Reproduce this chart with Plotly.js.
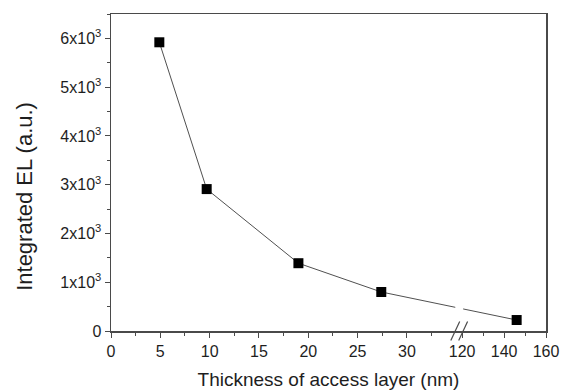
<!DOCTYPE html>
<html>
<head>
<meta charset="utf-8">
<script src="https://cdn.plot.ly/plotly-3.0.1.min.js"></script>
<style>html,body{margin:0;padding:0;background:#fff;}#chart{width:572px;height:390px;}</style>
</head>
<body>
<div id="chart"></div>
<script>
// Data
const thickness = [4.9, 9.7, 19.0, 27.4, 146];
const integratedEL = [5920, 2910, 1390, 800, 225];
const xTickValues = [0, 5, 10, 15, 20, 25, 30, 120, 140, 160];
const xMinorValues = [2.5, 7.5, 12.5, 17.5, 22.5, 27.5, 32.5, 130, 150];
const yTickValues = [0, 1000, 2000, 3000, 4000, 5000, 6000];
const yTickLabels = ['0', '1x10<sup>3</sup>', '2x10<sup>3</sup>', '3x10<sup>3</sup>', '4x10<sup>3</sup>', '5x10<sup>3</sup>', '6x10<sup>3</sup>'];
const yTitle = 'Integrated EL (a.u.)';
const xTitle = 'Thickness of access layer (nm)';

// Broken axis: 0-35 linear, then 120-160 compressed
const BREAK_LO = 35, BREAK_HI = 120, SEG2_START = 35.6, SEG2_SCALE = 0.2125;
function mapX(x) { return x <= BREAK_LO ? x : SEG2_START + (x - BREAK_HI) * SEG2_SCALE; }
const xMax = mapX(160);

const axisColor = '#4a4a4a';
const font = {family: 'Liberation Sans, Arial, sans-serif', color: '#1e1e1e'};

const trace = {
  x: thickness.map(mapX),
  y: integratedEL,
  mode: 'lines+markers',
  type: 'scatter',
  line: {color: '#505050', width: 1},
  marker: {symbol: 'square', size: 10, color: '#000', line: {color: '#000', width: 0}},
  hoverinfo: 'skip'
};

const layout = {
  width: 572, height: 390,
  margin: {l: 111, r: 26, t: 14, b: 59},
  paper_bgcolor: '#fff', plot_bgcolor: '#fff',
  showlegend: false,
  font: Object.assign({size: 16}, font),
  xaxis: {
    range: [0, xMax],
    tickmode: 'array',
    tickvals: xTickValues.map(mapX),
    ticktext: xTickValues.map(String),
    ticks: 'outside', ticklen: 5, tickwidth: 1, tickcolor: axisColor,
    minor: {tickmode: 'array', tickvals: xMinorValues.map(mapX), ticks: 'outside', ticklen: 3, tickwidth: 1, tickcolor: axisColor, showgrid: false},
    showline: true, linecolor: axisColor, linewidth: 1.5, mirror: true,
    showgrid: false, zeroline: false,
    tickfont: Object.assign({size: 16}, font),
    title: {text: xTitle, font: Object.assign({size: 19}, font), standoff: 14}
  },
  yaxis: {
    range: [0, 6500],
    tickmode: 'array',
    tickvals: yTickValues,
    ticktext: yTickLabels,
    ticks: 'outside', ticklen: 5, tickwidth: 1, tickcolor: axisColor,
    minor: {dtick: 500, ticks: 'outside', ticklen: 3, tickwidth: 1, tickcolor: axisColor, showgrid: false},
    showline: true, linecolor: axisColor, linewidth: 1.5, mirror: true,
    showgrid: false, zeroline: false,
    tickfont: Object.assign({size: 16}, font)
  },
  annotations: [
    {text: yTitle, xref: 'paper', yref: 'paper', x: -0.198, y: 0.426, xanchor: 'center', yanchor: 'middle',
     textangle: -90, showarrow: false, font: Object.assign({size: 22}, font)}
  ],
  shapes: [
    // gap in the connecting line at the break
    {type: 'rect', xref: 'x', yref: 'y', x0: BREAK_LO - 0.1, x1: SEG2_START + 0.1, y0: 200, y1: 1200, fillcolor: '#fff', line: {width: 0}, layer: 'above'},
    // break slashes
    {type: 'line', xref: 'x', yref: 'paper', x0: BREAK_LO - 0.55, x1: BREAK_LO + 0.35, y0: -0.03, y1: 0.03, line: {color: axisColor, width: 1.2}, layer: 'above'},
    {type: 'line', xref: 'x', yref: 'paper', x0: SEG2_START - 0.35, x1: SEG2_START + 0.55, y0: -0.03, y1: 0.03, line: {color: axisColor, width: 1.2}, layer: 'above'}
  ]
};

Plotly.newPlot('chart', [trace], layout, {staticPlot: true, displayModeBar: false});
</script>
</body>
</html>
